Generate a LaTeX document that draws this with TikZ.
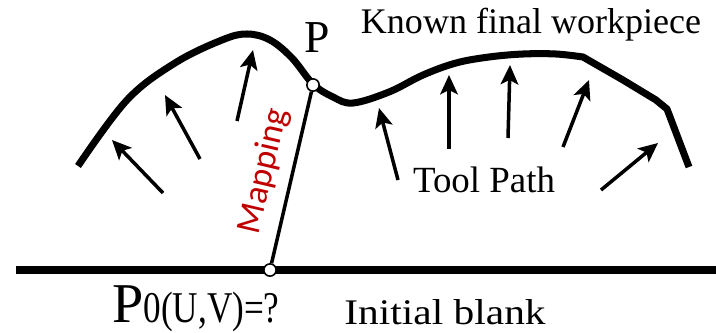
\documentclass[tikz,border=0pt]{standalone}
\usepackage{fontspec}
\setmainfont{Liberation Serif}
\newfontfamily\mapfont{Carlito}
\usetikzlibrary{arrows.meta}
\definecolor{mapred}{RGB}{192,0,0}

\begin{document}
\begin{tikzpicture}[x=0.02cm, y=-0.02cm, >={Stealth[length=11pt, width=10pt, inset=2.5pt]},
    surface/.style={line width=4pt, line join=round},
    normal/.style={->, line width=2pt},
    pin/.style={circle, draw, fill=white, line width=0.9pt, inner sep=0pt, minimum size=7pt},
    label/.style={font=\fontsize{20.5}{24}\selectfont, inner sep=0pt}]
    \useasboundingbox (0,0) rectangle (716,332);

    % final workpiece and initial blank
    \draw[surface] plot[smooth, tension=0.6] coordinates {(78,166) (127,100) (175,63) (222,40) (247,34)
        (270,40) (292,58) (313,84) (333,97) (353,103) (389,92) (423,75) (456,63) (489,57)
        (523,54) (556,54) (583,57)} -- (623,80) -- (656,100) -- (667,109) -- (689,167);
    \draw[surface] (16,270) -- (716,270);

    % tool path normals
    \draw[normal] (163,193) -- (112,140);
    \draw[normal] (200,159) -- (165,95);
    \draw[normal] (237,121) -- (253,50);
    \draw[normal] (398,180) -- (379,108);
    \draw[normal] (449,149) -- (449,75);
    \draw[normal] (508,138) -- (510,65);
    \draw[normal] (563,147) -- (589,80);
    \draw[normal] (601,190) -- (658,143);

    % mapping
    \node[pin] (p) at (313,85) {};
    \node[pin] (p0) at (270,270) {};
    \draw[line width=2pt] (p0) -- node[sloped, above=3pt, text=mapred, font=\mapfont\fontsize{20}{22}\selectfont] (map) {Mapping} (p);

    % labels
    \node[label, font=\fontsize{26}{30}\selectfont] (plab) at (317,38) {P};
    \node[label] (known) at (531,25) {Known final workpiece};
    \node[label, font=\fontsize{21}{24}\selectfont] (tool) at (484,180) {Tool Path};
    \node[label, anchor=base, xscale=1.15] (blank) at (445,324) {Initial blank};
    \node[label, anchor=base west] (pzero) at (112,322) {{\fontsize{32}{36}\selectfont P}\scalebox{0.8}[1]{\fontsize{25}{30}\selectfont 0(U,V)=?}};
\end{tikzpicture}
\end{document}
